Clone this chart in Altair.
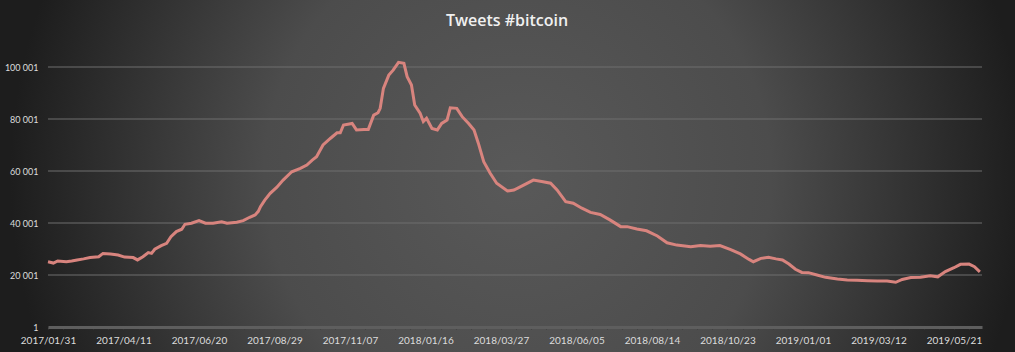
import altair as alt
import pandas as pd

# days since 2017-01-31 and tweet counts
day_offsets = [0, 5, 9, 17, 22, 27, 33, 39, 47, 51, 58, 65, 71, 79, 83, 88, 93, 96, 99, 105,
               110, 114, 119, 124, 127, 133, 140, 146, 153, 161, 166, 175, 181, 187, 192, 195,
               197, 201, 206, 212, 218, 226, 234, 240, 245, 249, 255, 262, 268, 271, 274, 282,
               286, 293, 297, 302, 306, 308, 311, 316, 320, 325, 330, 333, 337, 340, 345, 348,
               351, 356, 361, 365, 370, 373, 379, 384, 390, 395, 399, 404, 410, 416, 426, 432,
               441, 450, 459, 466, 472, 480, 487, 495, 503, 512, 521, 531, 537, 546, 555, 565,
               574, 583, 596, 605, 614, 623, 633, 642, 650, 654, 661, 668, 675, 681, 687, 693,
               699, 705, 713, 721, 732, 741, 750, 760, 769, 778, 786, 792, 800, 809, 818, 825,
               832, 840, 846, 854, 859, 864]
tweets = [25100, 24600, 25400, 25100, 25400, 25800, 26200, 26700, 27000, 28300, 28100, 27700,
          26900, 26700, 25800, 27000, 28600, 28300, 29900, 31300, 32200, 34700, 36700, 37600,
          39500, 39900, 40900, 39900, 39900, 40500, 39900, 40300, 40900, 42200, 43100, 44500,
          46300, 48800, 51400, 53700, 56500, 59700, 61000, 62300, 64200, 65500, 70000, 72600,
          74700, 74700, 77700, 78300, 75800, 76000, 76000, 81500, 82400, 84100, 91800, 96900,
          98800, 101800, 101400, 96300, 93100, 85400, 82200, 79000, 80300, 76400, 75800, 78300,
          79600, 84300, 84100, 80900, 78300, 75800, 70700, 63600, 59100, 55300, 52300, 52700,
          54600, 56500, 55900, 55300, 52700, 48200, 47600, 45700, 44100, 43300, 41200, 38600,
          38600, 37700, 37000, 35000, 32400, 31500, 30900, 31300, 31100, 31300, 29800, 28100,
          26000, 25100, 26400, 26800, 26200, 25800, 24200, 22200, 21000, 20900, 20000, 19100,
          18500, 18100, 18000, 17800, 17700, 17700, 17200, 18300, 19000, 19100, 19700, 19300,
          21300, 22800, 24100, 24200, 23200, 21200]

y_ticks = [1, 20001, 40001, 60001, 80001, 100001]
x_label_dates = ["2017/01/31", "2017/04/11", "2017/06/20", "2017/08/29", "2017/11/07",
                 "2018/01/16", "2018/03/27", "2018/06/05", "2018/08/14", "2018/10/23",
                 "2019/01/01", "2019/03/12", "2019/05/21"]
title_text = "Tweets #bitcoin"

start = pd.Timestamp("2017-01-31")
df = pd.DataFrame({
    "date": [start + pd.Timedelta(days=d) for d in day_offsets],
    "tweets": tweets,
})
grid_df = pd.DataFrame({"tweets": y_ticks[1:]})

W, H = 934, 260
PAD = {"left": 48, "top": 67, "right": 33, "bottom": 25}

tick_dates = [start + pd.Timedelta(days=14 * i) for i in range(62)]
tick_values = [alt.DateTime(year=t.year, month=t.month, date=t.day) for t in tick_dates]
label_list = "[" + ",".join("'%s'" % s for s in x_label_dates) + "]"
label_expr = ("indexof(%s, timeFormat(datum.value, '%%Y/%%m/%%d')) >= 0 ? "
              "timeFormat(datum.value, '%%Y/%%m/%%d') : ''") % label_list

x_enc = alt.X("date:T",
              scale=alt.Scale(domain=[alt.DateTime(year=2017, month=1, date=31),
                                      alt.DateTime(year=2019, month=6, date=16)]),
              axis=alt.Axis(values=tick_values, labelExpr=label_expr, title=None,
                            labelOverlap=False, labelBound=False, labelFlush=False,
                            grid=False, domainColor="#5e5e5e", domainWidth=3,
                            tickColor="#3a3a3a", tickSize=2, tickWidth=1,
                            labelColor="#dcdcdc", labelFont="Lato", labelFontSize=10,
                            labelPadding=6, zindex=1))
y_scale = alt.Scale(domain=[1, 100001], nice=False, zero=False)
y_axis = alt.Axis(values=y_ticks,
                  labelExpr="replace(format(datum.value, ','), ',', ' ')",
                  title=None, domain=False, ticks=False, grid=False,
                  labelColor="#dcdcdc", labelFont="Lato", labelFontSize=9,
                  labelPadding=10, zindex=1)
y_enc = alt.Y("tweets:Q", scale=y_scale, axis=y_axis)

bg = alt.Chart(pd.DataFrame({"a": [0]})).mark_rect(
    color=alt.Gradient(
        gradient="radial",
        stops=[alt.GradientStop(color="#595959", offset=0),
               alt.GradientStop(color="#4c4c4c", offset=0.5),
               alt.GradientStop(color="#1d1d1d", offset=1)],
        x1=0.51, y1=0.5, x2=0.51, y2=0.5, r1=0, r2=0.5,
    )
).encode(
    x=alt.value(-PAD["left"]), x2=alt.value(W + PAD["right"]),
    y=alt.value(-PAD["top"] - 250), y2=alt.value(H + PAD["bottom"] + 250),
)

grid = alt.Chart(grid_df).mark_rule(color="#6e6e6e", strokeWidth=1).encode(
    y=y_enc
)

line = alt.Chart(df).mark_line(color="#d8847e", strokeWidth=3, interpolate="linear").encode(
    x=x_enc, y=y_enc,
)

title = alt.Chart(pd.DataFrame({"t": [title_text]})).mark_text(
    font="Open Sans", fontSize=16, fontWeight=600, color="#f0f0f0",
    align="center", baseline="alphabetic",
).encode(text="t:N", x=alt.value(W / 2 - 8), y=alt.value(-PAD["top"] + 26))

chart = alt.layer(bg, grid, line, title).properties(
    width=W, height=H,
    padding=PAD,
    autosize=alt.AutoSizeParams(type="none"),
    background="#333333",
).configure_view(stroke=None)

chart.save("out.html", embed_options={"renderer": "svg", "actions": False})
